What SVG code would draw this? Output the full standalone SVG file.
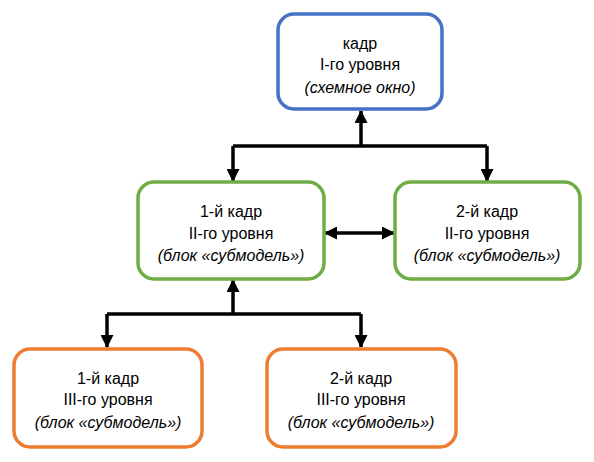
<svg xmlns="http://www.w3.org/2000/svg" width="594" height="462" viewBox="0 0 594 462">
<style>
.box{fill:#fff;stroke-width:3.5}
.b1{stroke:#4472C4}.b2{stroke:#70AD47}.b3{stroke:#ED7D31}
text{font-family:"Liberation Sans",Arial,sans-serif;font-size:16px;fill:#000;text-anchor:middle}
.i{font-style:italic}
.c{fill:none;stroke:#000;stroke-width:3.5}
</style>
<defs>
<marker id="ah" markerUnits="userSpaceOnUse" markerWidth="13" markerHeight="13" viewBox="0 0 13 13" refX="12" refY="6.5" orient="auto-start-reverse">
<path d="M0,0 L13,6.5 L0,13 Z" fill="#000"/>
</marker>
</defs>
<rect width="594" height="462" fill="#fff"/>
<g id="connectors">
<path class="c" d="M361,146 V111" marker-end="url(#ah)"/>
<path class="c" d="M233,146 H487"/>
<path class="c" d="M233,146 V181" marker-end="url(#ah)"/>
<path class="c" d="M487,146 V181" marker-end="url(#ah)"/>
<path class="c" d="M325,233 H394" marker-start="url(#ah)" marker-end="url(#ah)"/>
<path class="c" d="M233,314 V280" marker-end="url(#ah)"/>
<path class="c" d="M107,314 H361"/>
<path class="c" d="M107,314 V347" marker-end="url(#ah)"/>
<path class="c" d="M361,314 V347" marker-end="url(#ah)"/>
</g>
<g id="n1">
<rect class="box b1" x="278" y="14" width="164" height="95" rx="16"/>
<text x="360" y="49">кадр</text>
<text x="360" y="70">I-го уровня</text>
<text class="i" x="360" y="93">(схемное окно)</text>
</g>
<g id="n2">
<rect class="box b2" x="138" y="182" width="186" height="97" rx="16"/>
<text x="231" y="217">1-й кадр</text>
<text x="231" y="239">II-го уровня</text>
<text class="i" x="231" y="261">(блок «субмодель»)</text>
</g>
<g id="n3">
<rect class="box b2" x="395" y="182" width="185" height="97" rx="16"/>
<text x="487" y="217">2-й кадр</text>
<text x="487" y="239">II-го уровня</text>
<text class="i" x="487" y="261">(блок «субмодель»)</text>
</g>
<g id="n4">
<rect class="box b3" x="14" y="349" width="188" height="98" rx="16"/>
<text x="108" y="384">1-й кадр</text>
<text x="108" y="405">III-го уровня</text>
<text class="i" x="108" y="428">(блок «субмодель»)</text>
</g>
<g id="n5">
<rect class="box b3" x="267" y="349" width="189" height="98" rx="16"/>
<text x="361" y="384">2-й кадр</text>
<text x="361" y="405">III-го уровня</text>
<text class="i" x="361" y="428">(блок «субмодель»)</text>
</g>
</svg>
